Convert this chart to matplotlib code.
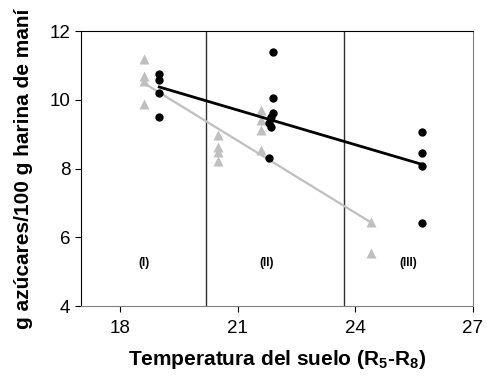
import numpy as np
import matplotlib.pyplot as plt

plt.rcParams['font.family'] = 'Liberation Sans'
plt.rcParams['mathtext.fontset'] = 'custom'
plt.rcParams['mathtext.rm'] = 'Liberation Sans:bold'
plt.rcParams['mathtext.it'] = 'Liberation Sans:bold'

# black circles
circ_x = [19.0, 19.0, 19.0, 19.0,
          21.9, 21.9, 21.9, 21.85, 21.8, 21.85, 21.8,
          25.7, 25.7, 25.7, 25.7]
circ_y = [10.75, 10.57, 10.2, 9.5,
          11.38, 10.07, 9.62, 9.49, 9.33, 9.2, 8.3,
          9.07, 8.46, 8.07, 6.41]

# grey triangles
tri_x = [18.6, 18.6, 18.6, 18.6,
         20.5, 20.5, 20.5, 20.5,
         21.6, 21.6, 21.6, 21.6,
         24.4, 24.4]
tri_y = [11.2, 10.69, 10.55, 9.88,
         8.98, 8.62, 8.48, 8.23,
         9.7, 9.42, 9.12, 8.54,
         6.44, 5.54]

# regression lines (slope, intercept)
black_fit = [-0.336, 16.76]
grey_fit = [-0.70, 23.515]

# region limits and labels
limits = [20.18, 23.72]
regions = ['(I)', '(II)', '(III)']
region_x = [18.6, 21.75, 25.35]
region_y = 5.25

fig = plt.figure(figsize=(4.87, 3.85), dpi=100)
ax = fig.add_axes([0.166, 0.205, 0.805, 0.714])

for v in limits:
    ax.axvline(v, color='#303030', lw=1)

xg = np.array([min(tri_x), max(tri_x)])
ax.plot(xg, np.polyval(grey_fit, xg), color='#bfbfbf', lw=1.6, zorder=2)
xb = np.array([min(circ_x), max(circ_x)])
ax.plot(xb, np.polyval(black_fit, xb), color='black', lw=2, zorder=4)

ax.plot(tri_x, tri_y, '^', color='#bfbfbf', ms=6.5, mec='none', zorder=3)
ax.plot(circ_x, circ_y, 'o', color='black', ms=6, mec='none', zorder=5)

for lab, x in zip(regions, region_x):
    ax.text(x, region_y, lab, ha='center', va='center', fontsize=8.5, fontweight='bold')

ax.set_xlim(17, 27)
ax.set_ylim(4, 12)
ax.set_xticks([18, 21, 24, 27])
ax.set_yticks([4, 6, 8, 10, 12])
ax.tick_params(direction='out', length=4, labelsize=13.5, colors='black')
ax.tick_params(axis='x', pad=6)

for s in ['left', 'top']:
    ax.spines[s].set_color('black')
for s in ['bottom', 'right']:
    ax.spines[s].set_color('#808080')

ax.set_xlabel('Temperatura del suelo (R$_5$-R$_8$)', fontsize=15, fontweight='bold', labelpad=8)
ax.set_ylabel('g azúcares/100 g harina de maní', fontsize=15, fontweight='bold', labelpad=12)

fig.savefig('out.png', dpi=100)
